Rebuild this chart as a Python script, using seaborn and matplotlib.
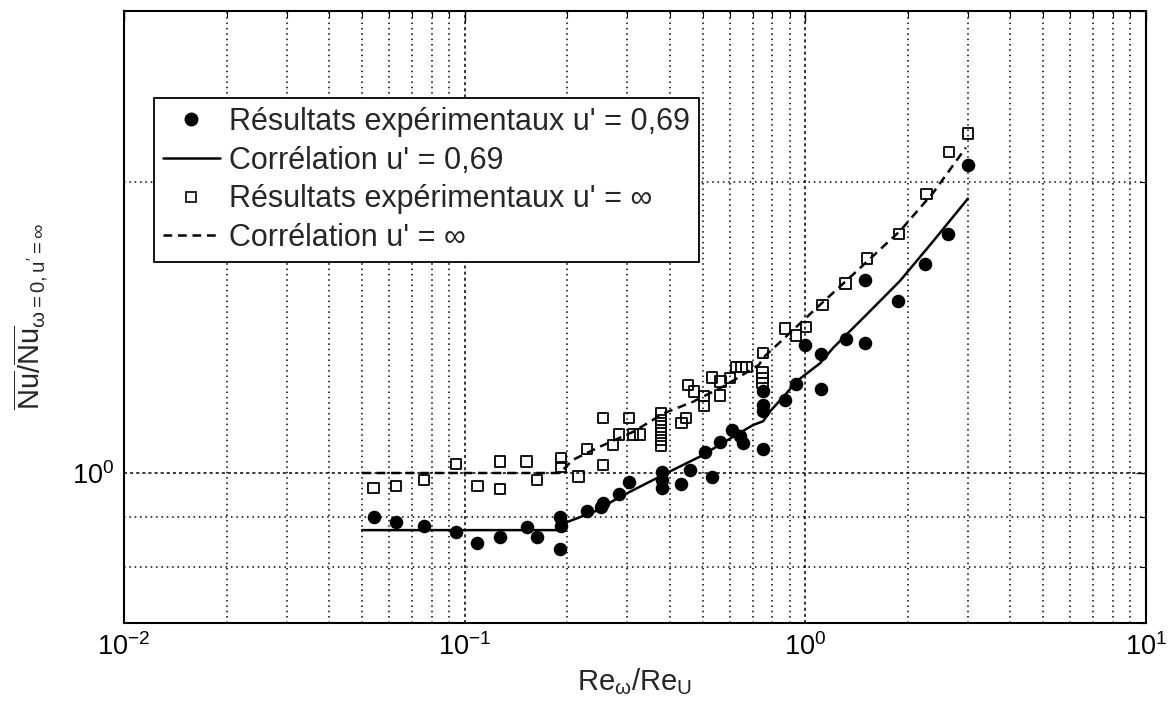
import numpy as np
import pandas as pd
import seaborn as sns
import matplotlib.pyplot as plt
from matplotlib.lines import Line2D
from matplotlib.ticker import LogLocator, NullFormatter

# Résultats expérimentaux u' = 0,69 (ronds pleins)
re_exp_069 = [0.054, 0.063, 0.076, 0.0945, 0.109, 0.127, 0.152, 0.163, 0.190, 0.192,
              0.190, 0.229, 0.252, 0.255, 0.283, 0.304, 0.379, 0.379, 0.379, 0.433,
              0.459, 0.507, 0.531, 0.562, 0.608, 0.643, 0.657, 0.749, 0.751, 0.751,
              0.751, 0.871, 0.938, 1.000, 1.110, 1.110, 1.313, 1.496, 1.496, 1.874,
              2.244, 2.627, 3.006]
nu_exp_069 = [0.900, 0.891, 0.882, 0.870, 0.846, 0.858, 0.879, 0.859, 0.900, 0.882,
              0.834, 0.914, 0.923, 0.932, 0.952, 0.980, 1.003, 0.984, 0.966, 0.975,
              1.008, 1.050, 0.990, 1.077, 1.108, 1.092, 1.073, 1.058, 1.214, 1.175,
              1.160, 1.190, 1.236, 1.357, 1.328, 1.221, 1.374, 1.582, 1.363, 1.505,
              1.642, 1.764, 2.080]

# Résultats expérimentaux u' = inf (carrés vides)
re_exp_inf = [0.054, 0.063, 0.076, 0.0945, 0.109, 0.127, 0.127, 0.152, 0.163, 0.192,
              0.192, 0.216, 0.229, 0.255, 0.255, 0.272, 0.284, 0.304, 0.3125, 0.327,
              0.377, 0.377, 0.377, 0.377, 0.377, 0.377, 0.433, 0.446, 0.453, 0.471,
              0.504, 0.504, 0.531, 0.564, 0.562, 0.601, 0.626, 0.650, 0.672, 0.749,
              0.749, 0.749, 0.751, 0.871, 0.938, 1.004, 1.124, 1.313, 1.514, 1.887,
              2.270, 2.640, 3.006]
nu_exp_inf = [0.965, 0.969, 0.983, 1.022, 0.969, 1.028, 0.963, 1.028, 0.984, 1.036,
              1.014, 0.992, 1.059, 1.139, 1.019, 1.069, 1.096, 1.139, 1.096, 1.096,
              1.153, 1.135, 1.117, 1.099, 1.082, 1.066, 1.126, 1.139, 1.233, 1.214,
              1.200, 1.173, 1.255, 1.243, 1.202, 1.254, 1.286, 1.286, 1.286, 1.270,
              1.253, 1.238, 1.330, 1.410, 1.387, 1.414, 1.491, 1.569, 1.665, 1.764,
              1.940, 2.146, 2.242]

# Corrélations
re_corr_069 = [0.05, 0.19, 0.20, 0.24, 0.286, 0.392, 0.491, 0.614, 0.703, 0.752,
               0.788, 0.881, 0.943, 1.104, 1.208, 1.514, 1.896, 2.375, 3.0]
nu_corr_069 = [0.873, 0.873, 0.890, 0.912, 0.945, 1.000, 1.040, 1.090, 1.121, 1.131,
               1.158, 1.209, 1.244, 1.298, 1.347, 1.458, 1.579, 1.736, 1.920]

re_corr_inf = [0.05, 0.19, 0.208, 0.25, 0.3125, 0.385, 0.469, 0.586, 0.73, 0.76,
               0.881, 1.08, 1.383, 1.896, 2.375, 2.96]
nu_corr_inf = [1.0, 1.0, 1.032, 1.065, 1.103, 1.153, 1.185, 1.233, 1.293, 1.32,
               1.385, 1.481, 1.604, 1.778, 1.948, 2.168]

legend_labels = ["Résultats expérimentaux u' = 0,69",
                 "Corrélation u' = 0,69",
                 "Résultats expérimentaux u' = ∞",
                 "Corrélation u' = ∞"]

exp069 = pd.DataFrame({'re': re_exp_069, 'nu': nu_exp_069})
expinf = pd.DataFrame({'re': re_exp_inf, 'nu': nu_exp_inf})
corr069 = pd.DataFrame({'re': re_corr_069, 'nu': nu_corr_069})
corrinf = pd.DataFrame({'re': re_corr_inf, 'nu': nu_corr_inf})

sns.set_theme(style='white')
plt.rcParams['font.family'] = ['Liberation Sans', 'DejaVu Sans']
plt.rcParams['mathtext.fontset'] = 'custom'
plt.rcParams['mathtext.rm'] = 'Liberation Sans'
plt.rcParams['mathtext.it'] = 'Liberation Sans:italic'
plt.rcParams['mathtext.bf'] = 'Liberation Sans:bold'
plt.rcParams['mathtext.default'] = 'regular'

fig = plt.figure(figsize=(11.71, 7.13), dpi=100)
ax = fig.add_axes([124 / 1171, 1 - 623 / 713, 1022 / 1171, 612 / 713])
ax.set_xscale('log')
ax.set_yscale('log')

dash = (0, (3.5, 2.3))
sns.lineplot(data=corr069, x='re', y='nu', ax=ax, color='black', lw=1.8,
             sort=False, estimator=None)
sns.lineplot(data=corrinf, x='re', y='nu', ax=ax, color='black', lw=1.8,
             sort=False, estimator=None, linestyle=dash)
sns.scatterplot(data=exp069, x='re', y='nu', ax=ax, color='black', marker='o',
                s=95, edgecolor='black', linewidth=0, zorder=3)
sns.scatterplot(data=expinf, x='re', y='nu', ax=ax, marker='s', s=55,
                facecolors='none', edgecolor='black', linewidth=1.3, zorder=3)

ax.set_xlim(1e-2, 1e1)
ax.set_ylim(0.7, 3.0)
ax.xaxis.set_major_locator(LogLocator(base=10, numticks=10))
ax.xaxis.set_minor_locator(LogLocator(base=10, subs=np.arange(2, 10), numticks=30))
ax.yaxis.set_major_locator(LogLocator(base=10, numticks=10))
ax.yaxis.set_minor_locator(LogLocator(base=10, subs=np.arange(2, 10), numticks=30))
ax.xaxis.set_minor_formatter(NullFormatter())
ax.yaxis.set_minor_formatter(NullFormatter())

ax.tick_params(which='both', direction='in', top=True, right=True,
               colors='black', labelcolor='black')
ax.tick_params(which='major', length=7, width=1, labelsize=19.5, pad=7)
ax.tick_params(which='minor', length=4, width=0.8)
ax.grid(True, which='major', color='black', linestyle=(0, (2, 2)), linewidth=1.1)
ax.grid(True, which='minor', color='black', linestyle=(0, (1, 2.5)), linewidth=1.1)
for sp in ax.spines.values():
    sp.set_color('black')
    sp.set_linewidth(1.5)

ax.set_xlabel(r'$Re_{\omega}/Re_{U}$', fontsize=21)
ax.xaxis.set_label_coords(0.5, -0.07)
ax.set_ylabel(r"$\overline{Nu}/\overline{Nu}_{\omega{=}0,u'{=}\infty}$", fontsize=21)
ax.yaxis.set_label_coords(-0.072, 0.5)

handles = [Line2D([], [], ls='none', marker='o', color='black', markersize=9),
           Line2D([], [], ls='-', color='black', lw=1.8),
           Line2D([], [], ls='none', marker='s', mfc='none', mec='black',
                  markersize=7, mew=1.2),
           Line2D([], [], ls=dash, color='black', lw=1.8)]
leg = fig.legend(handles, legend_labels, loc='upper left',
                 bbox_to_anchor=(154 / 1171, 1 - 98 / 713), fontsize=22,
                 frameon=True, fancybox=False, edgecolor='black', framealpha=1,
                 borderpad=0.3, handlelength=1.85, handletextpad=0.3,
                 labelspacing=0.28, borderaxespad=0)
leg.get_frame().set_linewidth(1.3)

fig.savefig('out.png', dpi=100, facecolor='white')
